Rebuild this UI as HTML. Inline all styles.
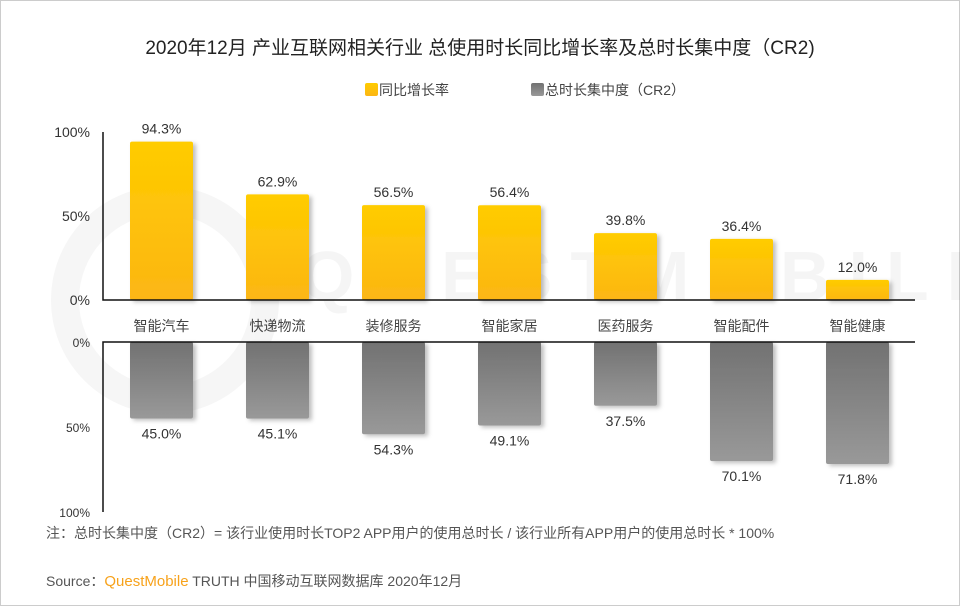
<!DOCTYPE html>
<html><head><meta charset="utf-8"><style>
body{margin:0;background:#fff;}
svg{display:block;font-family:"Liberation Sans","Noto Sans CJK SC",sans-serif;}
</style></head><body>
<svg id="c" width="960" height="606" viewBox="0 0 960 606">
<defs>
<linearGradient id="gy" x1="0" y1="0" x2="0" y2="1"><stop offset="0" stop-color="#ffcc00"/><stop offset="1" stop-color="#fcb614"/></linearGradient>
<linearGradient id="gg" x1="0" y1="0" x2="0" y2="1"><stop offset="0" stop-color="#727272"/><stop offset="1" stop-color="#999"/></linearGradient>
<filter id="sh" x="-20%" y="-20%" width="150%" height="150%"><feDropShadow dx="3" dy="2" stdDeviation="2" flood-color="#000" flood-opacity="0.25"/></filter>
</defs>
<rect x="0.5" y="0.5" width="959" height="605" fill="#fff" stroke="#ccc"/>
<g opacity="0.035" fill="none" stroke="#000">
<circle cx="165" cy="300" r="100" stroke-width="28"/>
<text x="300" y="300" font-size="70" fill="#000" stroke="none" font-weight="bold" letter-spacing="18">QUESTMOBILE</text>
</g>
<text x="480" y="54" text-anchor="middle" font-size="19" fill="#222">2020年12月 产业互联网相关行业 总使用时长同比增长率及总时长集中度（CR2)</text>
<rect x="365" y="83" width="13" height="13" rx="2" fill="url(#gy)"/>
<text x="379" y="95" font-size="14" fill="#444">同比增长率</text>
<rect x="531" y="83" width="13" height="13" rx="2" fill="url(#gg)"/>
<text x="545" y="95" font-size="14" fill="#444">总时长集中度（CR2）</text>
<g id="plot"></g>
<text x="46" y="538" font-size="14" fill="#555">注：总时长集中度（CR2）= 该行业使用时长TOP2 APP用户的使用总时长 / 该行业所有APP用户的使用总时长 * 100%</text>
<text x="46" y="586" font-size="14" fill="#555">Source：<tspan fill="#f7a21b" font-size="15">QuestMobile</tspan> TRUTH 中国移动互联网数据库 2020年12月</text>
</svg>
<script>
const categories=["智能汽车","快递物流","装修服务","智能家居","医药服务","智能配件","智能健康"];
const growth=[94.3,62.9,56.5,56.4,39.8,36.4,12.0];
const cr2=[45.0,45.1,54.3,49.1,37.5,70.1,71.8];
const upperTicks=[0,50,100];
const lowerTicks=[0,50,100];
const ns="http://www.w3.org/2000/svg";
const g=document.getElementById('plot');
const x0=103,x1=915,step=116,bw=63,firstX=130;
const yU=v=>300-v*1.68, yL=v=>342+v*1.7;
const xb=i=>firstX+i*step;
function mk(t,a,txt){const e=document.createElementNS(ns,t);for(const k in a)e.setAttribute(k,a[k]);if(txt!==undefined)e.textContent=txt;g.appendChild(e);return e;}
upperTicks.forEach(t=>{const e=mk('text',{x:90,y:yU(t)+5,'text-anchor':'end','font-size':14,fill:'#333'},t+'%');

});
lowerTicks.forEach(t=>{const e=mk('text',{x:90,y:yL(t)+5,'text-anchor':'end','font-size':12,fill:'#333'},t+'%');

});
categories.forEach((c,i)=>{
const x=xb(i);
const b=mk('rect',{x:x,y:yU(growth[i]),width:bw,height:300-yU(growth[i]),rx:2,fill:'url(#gy)',filter:'url(#sh)'});


const l=mk('text',{x:x+bw/2,y:yU(growth[i])-8,'text-anchor':'middle','font-size':14,fill:'#333'},growth[i].toFixed(1)+'%');


const b2=mk('rect',{x:x,y:342,width:bw,height:yL(cr2[i])-342,rx:2,fill:'url(#gg)',filter:'url(#sh)'});


const l2=mk('text',{x:x+bw/2,y:yL(cr2[i])+20,'text-anchor':'middle','font-size':14,fill:'#333'},cr2[i].toFixed(1)+'%');


const cl=mk('text',{x:x+bw/2,y:331,'text-anchor':'middle','font-size':14,fill:'#444'},c);


});
const a1=mk('path',{d:`M${x0} ${yU(100)}V300H${x1}`,stroke:'#111','stroke-width':1.5,fill:'none'});


const a2=mk('path',{d:`M${x0} ${yL(100)}V342H${x1}`,stroke:'#111','stroke-width':1.5,fill:'none'});


</script>
</body></html>
